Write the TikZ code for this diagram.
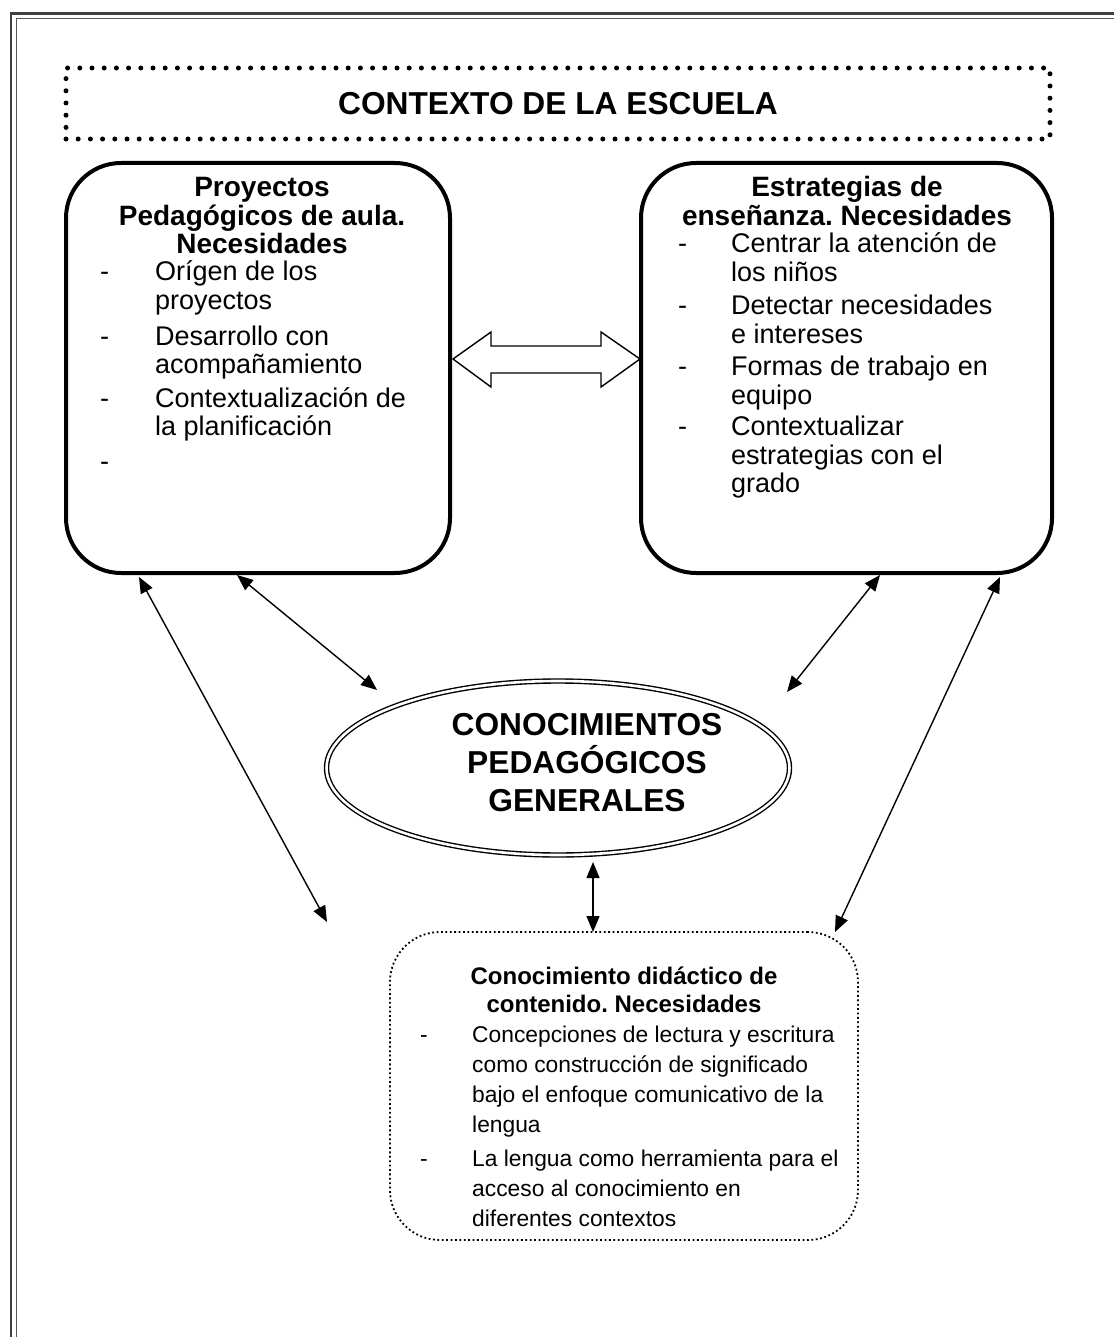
\documentclass[tikz,border=0pt]{standalone}
\usepackage{fontspec}
\setmainfont{Liberation Sans}
\usetikzlibrary{arrows.meta,shapes.geometric,calc}
\frenchspacing
\newlength\dashw
\newcommand\myitem[2][55pt]{\par\setlength\dashw{#1}\hangindent=\dashw\hangafter=1\noindent\makebox[\dashw][l]{-}#2}
\newcommand\headblock[1]{\begin{minipage}[t]{440pt}\centering\lineskiplimit=-100pt\bfseries #1\end{minipage}}
\newcommand\listblock[1]{\begin{minipage}[t]{440pt}\lineskiplimit=-100pt\parindent=0pt #1\end{minipage}}
\begin{document}
\begin{tikzpicture}[x=1pt,y=-1pt,
  bigbox/.style={draw, line width=4pt, rounded corners=55pt, inner sep=0},
  dotbox/.style={draw, line width=5pt, dash pattern=on 0pt off 12.2pt, line cap=round, inner sep=0},
  finedot/.style={draw, line width=1.8pt, dash pattern=on 1.8pt off 2.6pt, rounded corners=50pt, inner sep=0},
  conn/.style={line width=1.4pt, {Triangle[length=16pt,width=13pt]}-{Triangle[length=16pt,width=13pt]}},
  htxt/.style={inner sep=0, font=\fontsize{28}{28.5}\selectfont},
  txt/.style={inner sep=0, font=\fontsize{27}{28.5}\selectfont},
  bhtxt/.style={inner sep=0, font=\fontsize{24}{28.5}\selectfont},
  btxt/.style={inner sep=0, font=\fontsize{22.8}{30}\selectfont},
  bigtxt/.style={inner sep=0, font=\bfseries\fontsize{31.7}{38}\selectfont},
]
\useasboundingbox (0,0) rectangle (1114,1337);
% page frame
\draw[line width=2.5pt, black!75] (11.2,1337) -- (11.2,13.5) -- (1114,13.5);
\draw[line width=1.5pt, black!65] (16.5,1337) -- (16.5,18.7) -- (1114,18.7);

% title
\node[dotbox, minimum width=984, minimum height=71] (T) at (558,103.5) {};
\node[bigtxt] (Tt) at (558,103.5) {CONTEXTO DE LA ESCUELA};

% boxes
\node[bigbox, minimum width=384, minimum height=410] (L) at (258,368) {};
\node[bigbox, minimum width=411, minimum height=410] (R) at (846.5,368) {};
\node[ellipse, draw, double, line width=1.4pt, double distance=2.6pt, minimum width=463, minimum height=174, inner sep=0] (E) at (558,768) {};
\node[bigtxt, align=center] (Et) at (587,763) {CONOCIMIENTOS\\PEDAGÓGICOS\\GENERALES};
\node[finedot, minimum width=468, minimum height=308] (B) at (624,1086) {};

% left box text
\node[htxt, anchor=base] (Lh) at (262,197) {\headblock{Proyectos\\Pedagógicos de aula.\\Necesidades}};
\node[txt, anchor=base west] (Ll) at (100,281) {\listblock{%
  \myitem{Orígen de los\\proyectos}\par\vspace{7pt}%
  \myitem{Desarrollo con\\acompañamiento}\par\vspace{5pt}%
  \myitem{Contextualización de\\la planificación}\par\vspace{6pt}%
  \myitem{}}};

% right box text
\node[htxt, anchor=base] (Rh) at (847,197) {\headblock{Estrategias de\\enseñanza. Necesidades}};
\node[txt, anchor=base west] (Rl) at (678,253) {\listblock{%
  \myitem[53pt]{Centrar la atención de\\los niños}\par\vspace{5pt}%
  \myitem[53pt]{Detectar necesidades\\e intereses}\par\vspace{4pt}%
  \myitem[53pt]{Formas de trabajo en\\equipo}\par\vspace{3pt}%
  \myitem[53pt]{Contextualizar\\estrategias con el\\grado}}};

% bottom box text
\node[bhtxt, anchor=base] (Bh) at (624,984) {\headblock{Conocimiento didáctico de\\contenido. Necesidades}};
\node[btxt, anchor=base west] (Bl) at (420,1042) {\listblock{%
  \myitem[52pt]{Concepciones de lectura y escritura\\como construcción de significado\\bajo el enfoque comunicativo de la\\lengua}\par\vspace{4pt}%
  \myitem[52pt]{La lengua como herramienta para el\\acceso al conocimiento en\\diferentes contextos}}};

% block double arrow between the two upper boxes
\draw[line width=1.4pt, fill=white]
  ($(L.east)+(1,-9)$) -- ($(L.east)+(39,-36)$) -- ($(L.east)+(39,-22)$)
  -- ($(R.west)+(-38,-22)$) -- ($(R.west)+(-38,-36)$) -- ($(R.west)+(1,-9)$)
  -- ($(R.west)+(-38,19)$) -- ($(R.west)+(-38,5)$)
  -- ($(L.east)+(39,5)$) -- ($(L.east)+(39,19)$) -- cycle;

% connector end points
\coordinate (a1) at (139,577);
\coordinate (a1e) at (327,922);
\coordinate (a2) at (237,575);
\coordinate (a2e) at (377,690);
\coordinate (a3) at (880,575);
\coordinate (a3e) at (787,692);
\coordinate (a4) at (1000,577);
\coordinate (a4e) at (835,932);
\coordinate (a5) at (593,862);
\coordinate (a5e) at (593,932);

\draw[conn] (a1) -- (a1e);
\draw[conn] (a2) -- (a2e);
\draw[conn] (a3) -- (a3e);
\draw[conn] (a4) -- (a4e);
\draw[conn] (a5) -- (a5e);
\end{tikzpicture}
\end{document}
